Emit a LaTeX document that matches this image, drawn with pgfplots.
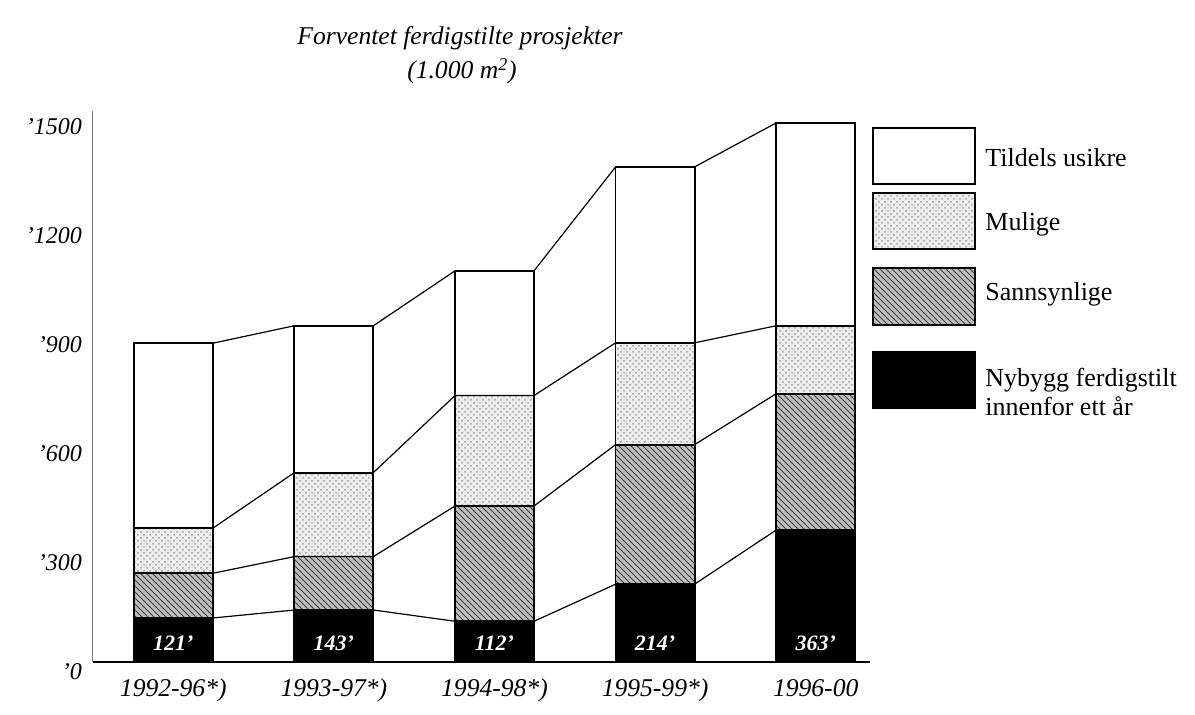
\documentclass[border=0pt]{standalone}
\usepackage{fontspec}
\setmainfont{Liberation Serif}
\usepackage{pgfplots}
\pgfplotsset{compat=1.18}
\usepackage{pgfplotstable}
\usetikzlibrary{patterns}

% cumulative levels of the stacked bars (1.000 m2)
\pgfplotstableread{
x black dark light total
0 121 244 368 877
1 143 290 521 925
2 112 429 733 1076
3 214 598 878 1362
4 363 738 925 1483
}\bars

% same levels at the left and right edge of each bar (for the connecting lines)
\pgfplotstableread{
xe black dark light total
-0.246 121 244 368 877
0.246 121 244 368 877
0.754 143 290 521 925
1.246 143 290 521 925
1.754 112 429 733 1076
2.246 112 429 733 1076
2.754 214 598 878 1362
3.246 214 598 878 1362
3.754 363 738 925 1483
4.246 363 738 925 1483
}\edges

\tikzset{
  tu/.style={fill=white, draw=black, line width=0.9pt},
  mu/.style={preaction={fill=gray!14}, pattern=crosshatch dots, pattern color=gray!75, draw=black, line width=0.9pt},
  sa/.style={preaction={fill=gray!50}, pattern=north west lines, pattern color=black!75, draw=black, line width=0.9pt},
  ny/.style={fill=black, draw=black, line width=0.9pt},
}

\begin{document}
\begin{tikzpicture}
\path[use as bounding box] (0,0) rectangle (597.5pt,357.5pt);
\begin{axis}[
  at={(46.5pt,26.5pt)}, anchor=south west,
  x=80.3pt, y=0.18175pt,
  xmin=-0.5, xmax=4.34, ymin=0, ymax=1515,
  axis lines*=left,
  x axis line style={line width=0.9pt},
  y axis line style={line width=0.5pt, gray},
  xtick={0,1,2,3,4},
  xticklabels={1992-96*),1993-97*),1994-98*),1995-99*),1996-00},
  ytick={0,300,600,900,1200,1500},
  yticklabels={'0,'300,'600,'900,'1200,'1500},
  major tick length=0pt,
  tick label style={font=\fontsize{12}{14}\selectfont\itshape},
  xticklabel style={yshift=-5pt, font=\fontsize{12.8}{14}\selectfont\itshape},
  yticklabel style={yshift=-5pt, xshift=-2pt},
  clip=false,
]
\addplot[ybar, bar width=39.5pt, bar shift=0pt, tu] table[x=x,y=total]{\bars};
\addplot[ybar, bar width=39.5pt, bar shift=0pt, mu] table[x=x,y=light]{\bars};
\addplot[ybar, bar width=39.5pt, bar shift=0pt, sa] table[x=x,y=dark]{\bars};
\addplot[ybar, bar width=39.5pt, bar shift=0pt, ny] table[x=x,y=black]{\bars};

\addplot[sharp plot, black, line width=0.6pt] table[x=xe,y=total]{\edges};
\addplot[sharp plot, black, line width=0.6pt] table[x=xe,y=light]{\edges};
\addplot[sharp plot, black, line width=0.6pt] table[x=xe,y=dark]{\edges};
\addplot[sharp plot, black, line width=0.6pt] table[x=xe,y=black]{\edges};

\foreach \i/\v in {0/121,1/143,2/112,3/214,4/363}{
  \edef\tmp{\noexpand\node[white, font=\noexpand\fontsize{11}{13}\noexpand\selectfont\noexpand\bfseries\noexpand\itshape] at (axis cs:\i,52) {\v'};}
  \tmp
}
\end{axis}

% title
\node[anchor=base, font=\fontsize{12.8}{14}\selectfont\itshape] at (230pt,335pt) {Forventet ferdigstilte prosjekter};
\node[anchor=base, font=\fontsize{12.8}{14}\selectfont\itshape] at (231pt,318pt) {(1.000 m\textsuperscript{2})};

% legend
\draw[tu] (436.5pt,265.5pt) rectangle (487.5pt,293.5pt);
\draw[mu] (436.5pt,233pt) rectangle (487.5pt,261pt);
\draw[sa] (436.5pt,195pt) rectangle (487.5pt,223.5pt);
\draw[ny] (436.5pt,153.5pt) rectangle (487.5pt,181.5pt);
\node[anchor=base west, inner sep=0pt, font=\fontsize{13}{15}\selectfont] at (492.5pt,274pt) {Tildels usikre};
\node[anchor=base west, inner sep=0pt, font=\fontsize{13}{15}\selectfont] at (492.5pt,242pt) {Mulige};
\node[anchor=base west, inner sep=0pt, font=\fontsize{13}{15}\selectfont] at (492.5pt,207pt) {Sannsynlige};
\node[anchor=base west, inner sep=0pt, font=\fontsize{13}{15}\selectfont] at (492.5pt,164pt) {Nybygg ferdigstilt};
\node[anchor=base west, inner sep=0pt, font=\fontsize{13}{15}\selectfont] at (492.5pt,149.5pt) {innenfor ett år};
\end{tikzpicture}
\end{document}
